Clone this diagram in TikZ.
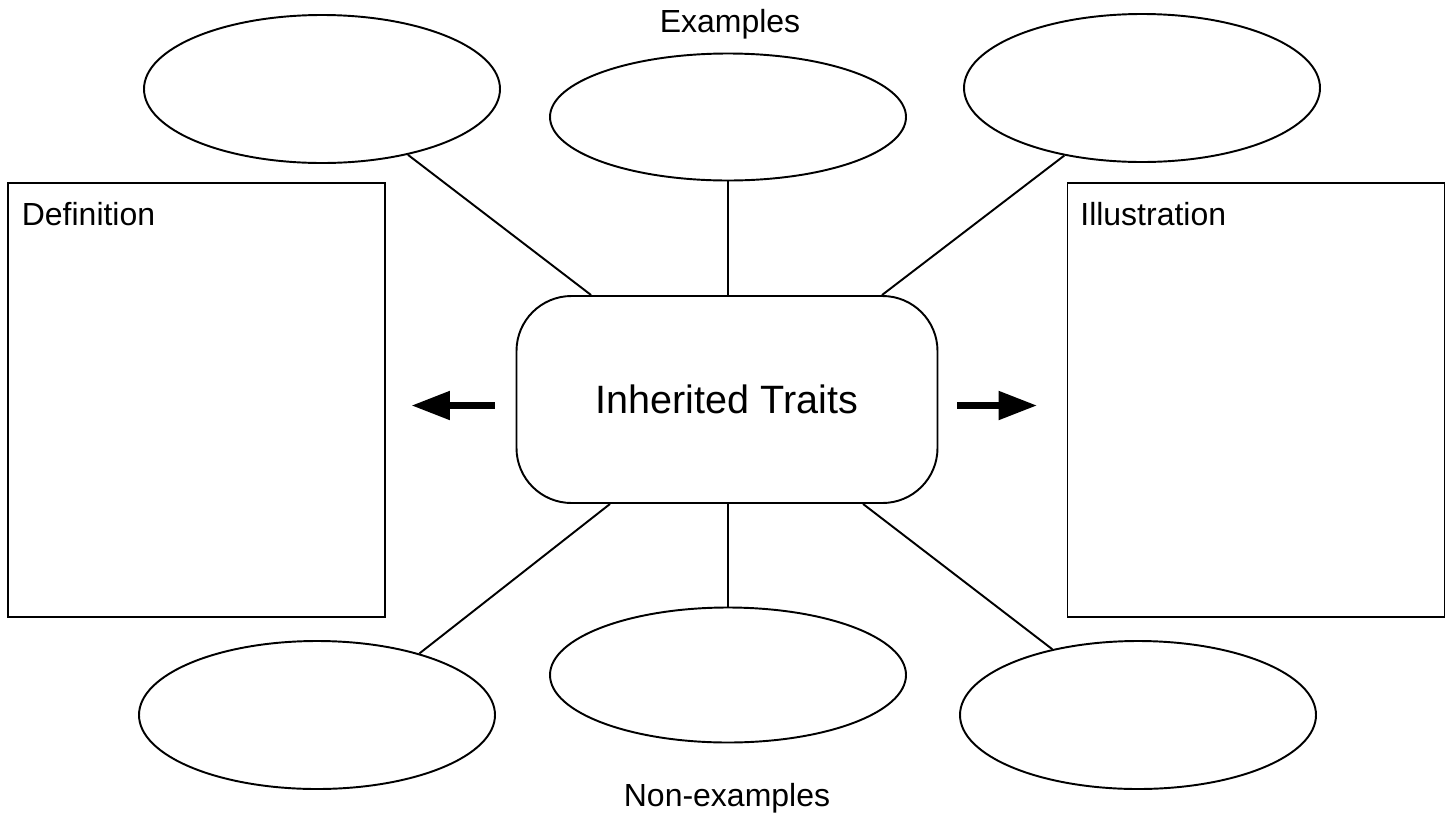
\documentclass[tikz,border=0pt]{standalone}
\usepackage{fontspec}
\setmainfont{Liberation Sans}
\usepackage{tikz}
\usetikzlibrary{arrows.meta,positioning,shapes.geometric,calc}

\begin{document}
\begin{tikzpicture}[line width=1.1pt,font=\fontsize{18.2}{22}\selectfont]
        \tikzstyle{oval}=[draw,ellipse,minimum width=7.12cm,minimum height=2.96cm,inner sep=0pt]
        \tikzstyle{panel}=[draw,minimum width=7.54cm,minimum height=8.68cm,inner sep=0pt]
        \tikzstyle{core}=[draw,rounded corners=1.1cm,minimum width=8.42cm,minimum height=4.14cm,font=\fontsize{22.5}{27}\selectfont]
        \tikzstyle{bigarrow}=[line width=4.5pt,-{Triangle[length=0.78cm,width=0.54cm]}]
        \useasboundingbox (0,0) rectangle (29.06,-16.3);
        \node[core] (cb) at (14.54,-7.99) {Inherited Traits};
        % ovals round the centre
        \node[oval] (tl) at (6.44,-1.78) {};
        \node[oval,minimum height=2.54cm] (tm) at (14.56,-2.34) {};
        \node[oval] (tr) at (22.84,-1.76) {};
        \node[oval] (bl) at (6.34,-14.3) {};
        \node[oval,minimum height=2.7cm] (bm) at (14.56,-13.5) {};
        \node[oval] (br) at (22.76,-14.3) {};
        % side panels
        \node[panel] (def) at (3.93,-8.0) {};
        \node[panel] (ill) at (25.12,-8.0) {};
        \node[anchor=west] (deflbl) at ($(def.north west)+(0.16,-0.64)$) {Definition};
        \node[anchor=west] (illlbl) at ($(ill.north west)+(0.14,-0.64)$) {Illustration};
        \node (exlbl) at (14.6,-0.48) {Examples};
        \node (nexlbl) at (14.54,-15.96) {Non-examples};
        % spokes
        \draw (tl) -- (cb);
        \draw (tm) -- (tm |- cb.north);
        \draw (tr.221) -- ($(cb.north)+(3.1,0)$);
        \draw (bl.31) -- ($(cb.south)+(-2.34,0)$);
        \draw (bm) -- (bm |- cb.south);
        \draw (br) -- (cb);
        % arrows to the panels
        \draw[bigarrow] ([xshift=-0.42cm,yshift=-0.12cm]cb.west) -- ([xshift=0.5cm,yshift=-0.12cm]cb.west -| def.east);
        \draw[bigarrow] ([xshift=0.38cm,yshift=-0.12cm]cb.east) -- ([xshift=-0.58cm,yshift=-0.12cm]cb.east -| ill.west);
      \end{tikzpicture}
\end{document}
